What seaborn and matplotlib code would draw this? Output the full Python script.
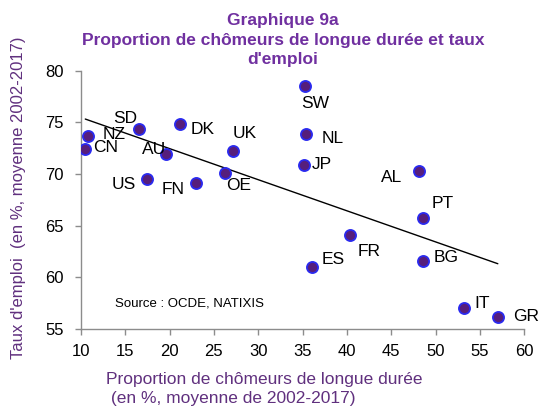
import matplotlib
matplotlib.use("Agg")
import matplotlib.pyplot as plt
import seaborn as sns
import pandas as pd

# ---- data ----
countries = ["NZ", "CN", "SD", "DK", "AU", "UK", "US", "FN", "OE",
             "SW", "NL", "JP", "AL", "PT", "FR", "ES", "BG", "IT", "GR"]
long_term_share = [10.8, 10.5, 16.6, 21.2, 19.6, 27.2, 17.5, 23.0, 26.3,
                   35.3, 35.4, 35.2, 48.1, 48.6, 40.3, 36.0, 48.6, 53.2, 57.0]
employment_rate = [73.7, 72.4, 74.35, 74.8, 71.9, 72.25, 69.5, 69.1, 70.1,
                   78.5, 73.9, 70.9, 70.3, 65.7, 64.1, 61.0, 61.6, 57.0, 56.15]
x_ticks = [10, 15, 20, 25, 30, 35, 40, 45, 50, 55, 60]
y_ticks = [55, 60, 65, 70, 75, 80]

# label offsets in pixels (dx, dy up-positive), and alignment
label_layout = {
    "NZ": (15, 1, "left"), "CN": (8, 2, "left"), "SD": (-2, 10, "right"),
    "DK": (10, -5, "left"), "AU": (0, 5, "right"), "UK": (-1, 17, "left"),
    "US": (-12, -5, "right"), "FN": (-12, -6, "right"), "OE": (1, -13, "left"),
    "SW": (-4, -17, "left"), "NL": (15, -5, "left"), "JP": (7, 0, "left"),
    "AL": (-17, -7, "right"), "PT": (8, 15, "left"), "FR": (8, -17, "left"),
    "ES": (10, 7, "left"), "BG": (10, 3, "left"), "IT": (10, 5, "left"),
    "GR": (15, 1, "left"),
}

df = pd.DataFrame({"country": countries, "x": long_term_share, "y": employment_rate})

sns.set_theme(style="white")
plt.rcParams["font.family"] = ["Liberation Sans", "DejaVu Sans"]

fig = plt.figure(figsize=(5.39, 4.08), dpi=100)
ax = fig.add_axes([0.150, 0.1936, 0.823, 0.6334])

sns.regplot(data=df, x="x", y="y", ax=ax, ci=None, truncate=True,
            scatter_kws=dict(s=64, color="#561E7C", edgecolors="#2A2AF0", linewidths=1.3, alpha=1, zorder=3),
            line_kws=dict(color="black", lw=1.0, zorder=2))

px = 72 / 100
for c, xv, yv in zip(countries, long_term_share, employment_rate):
    dx, dy, ha = label_layout[c]
    ax.annotate(c, (xv, yv), xytext=(dx * px, dy * px), textcoords="offset points",
                ha=ha, va="center", fontsize=12.5, color="black")

ax.set_xlim(10, 60)
ax.set_ylim(55, 80)
ax.set_xticks(x_ticks)
ax.set_yticks(y_ticks)
ax.set_xlabel("")
ax.set_ylabel("")
ax.tick_params(axis="both", labelsize=12, colors="black", length=4, width=1,
               direction="out", bottom=True, left=True, color="#8c8c8c")
ax.tick_params(axis="x", pad=6.5)
ax.tick_params(axis="y", pad=8.5)
for s in ["top", "right"]:
    ax.spines[s].set_visible(False)
for s in ["left", "bottom"]:
    ax.spines[s].set_color("#8c8c8c")
    ax.spines[s].set_linewidth(1.0)

ax.text(0.0767, 0.097, "Source : OCDE, NATIXIS", transform=ax.transAxes, fontsize=9.5,
        color="black", va="center", ha="left")

fig.text(283 / 539, 1 - 13 / 408, "Graphique 9a\nProportion de chômeurs de longue durée et taux\nd'emploi",
         ha="center", va="top", fontsize=12.5, fontweight="bold", color="#7030A0", linespacing=1.38)

fig.text(106 / 539, 1 - 389 / 408, "Proportion de chômeurs de longue durée\n (en %, moyenne de 2002-2017)",
         ha="left", va="center", fontsize=12.5, color="#60307E", multialignment="left", linespacing=1.28)

fig.text(19 / 539, 1 - 198 / 408, "Taux d'emploi  (en %, moyenne 2002-2017)", rotation=90,
         ha="center", va="center", fontsize=12, color="#60307E")

fig.savefig("out.png", dpi=100)
